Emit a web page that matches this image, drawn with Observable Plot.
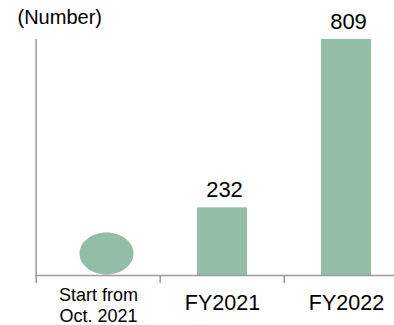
<!DOCTYPE html>
<html>
<head>
<meta charset="utf-8">
<script src="https://cdn.jsdelivr.net/npm/d3@7"></script>
<script src="https://cdn.jsdelivr.net/npm/@observablehq/plot@0.6"></script>
<style>
  html, body { margin: 0; padding: 0; background: #fff; }
  #chart svg { display: block; overflow: visible; }
</style>
</head>
<body>
<div id="chart"></div>
<script>
// ---- data ----
const categories = ["Start from\nOct. 2021", "FY2021", "FY2022"];
const values = [null, 232, 809];
const unitLabel = "(Number)";
const yMax = 809;

const rows = categories.map((c, i) => ({category: c, value: values[i]}));
const barRows = rows.filter(d => d.value != null);
const markerRows = rows.filter(d => d.value == null);
const startLabels = categories.filter(c => c.includes("\n"));
const fyLabels = categories.filter(c => !c.includes("\n"));

const green = "#93bda6";
const axisGrey = "#9a9a9a";
const font = "'Liberation Sans', Arial, sans-serif";

// ellipse symbol for the "start" placeholder
const ellipseSymbol = {
  draw(ctx, size) {
    const r = Math.sqrt(size / Math.PI);
    const rx = r * 27 / 21, ry = r, k = 0.5522847498;
    ctx.moveTo(rx, 0);
    ctx.bezierCurveTo(rx, ry * k, rx * k, ry, 0, ry);
    ctx.bezierCurveTo(-rx * k, ry, -rx, ry * k, -rx, 0);
    ctx.bezierCurveTo(-rx, -ry * k, -rx * k, -ry, 0, -ry);
    ctx.bezierCurveTo(rx * k, -ry, rx, -ry * k, rx, 0);
    ctx.closePath();
  }
};

const W = 394, H = 325, mTop = 39, mBottom = 50;
const left = 35, right = 409;
const half = (right - left) / categories.length / 2;
const innerH = H - mTop - mBottom;

const chart = Plot.plot({
  width: W,
  height: H,
  marginTop: mTop,
  marginBottom: mBottom,
  marginLeft: left,
  marginRight: 0,
  style: {fontFamily: font, background: "#fff", color: "#000"},
  x: {domain: categories, range: [left, right], padding: 0, axis: null},
  y: {domain: [0, yMax], axis: null},
  marks: [
    Plot.barY(barRows, {x: "category", y: "value", fill: green, insetLeft: 37, insetRight: 37}),
    Plot.dot(markerRows, {x: "category", frameAnchor: "bottom", dy: -22, dx: 8, r: 21, symbol: ellipseSymbol, fill: green, stroke: "none"}),
    // y axis line
    Plot.ruleX([categories[0]], {dx: -half, stroke: axisGrey, strokeWidth: 1.5}),
    // x axis line
    Plot.ruleY([0], {stroke: axisGrey, strokeWidth: 1.5}),
    // tick marks at band boundaries (below the x axis)
    Plot.ruleX(categories, {x: d => d, dx: -half, insetTop: innerH, insetBottom: -8, stroke: axisGrey, strokeWidth: 1.5}),
    // value labels
    Plot.text(barRows, {x: "category", y: "value", text: d => String(d.value), lineAnchor: "bottom", dy: -11, dx: 2, fontSize: 22, fill: "#000"}),
    // category labels
    Plot.text(startLabels, {x: d => d, frameAnchor: "bottom", lineAnchor: "top", text: d => d,
      fontSize: 18, dy: 10, lineHeight: 1.2, fill: "#000"}),
    Plot.text(fyLabels, {x: d => d, frameAnchor: "bottom", lineAnchor: "top", text: d => d,
      fontSize: 21.5, dy: 19, fill: "#000"}),
    // unit label
    Plot.text([unitLabel], {frameAnchor: "top-left", text: d => d, textAnchor: "start", lineAnchor: "bottom",
      dx: -18, dy: -16, fontSize: 20, fill: "#000"})
  ]
});

document.getElementById("chart").appendChild(chart);
</script>
</body>
</html>
